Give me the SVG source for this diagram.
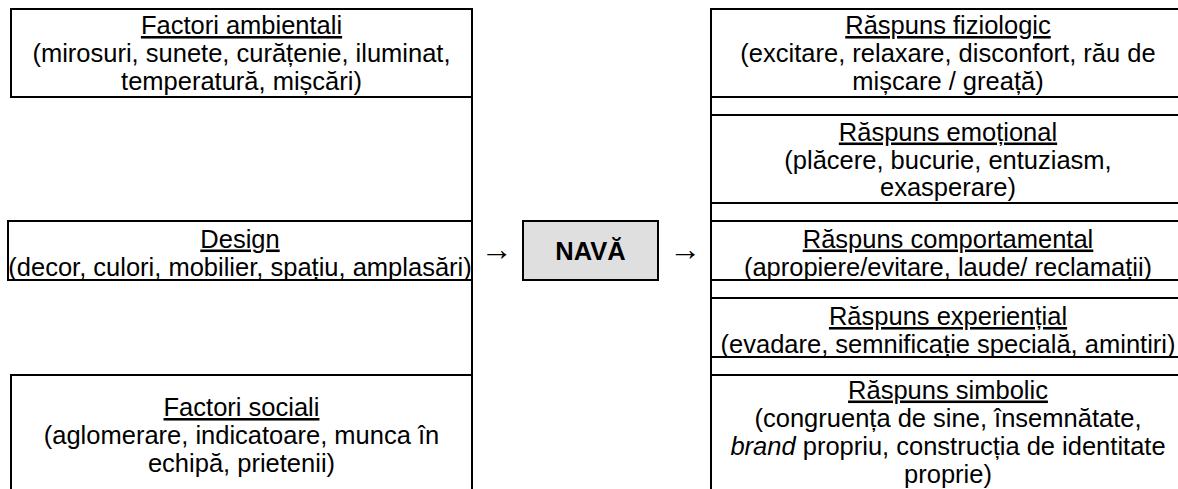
<svg xmlns="http://www.w3.org/2000/svg" width="1178" height="489" viewBox="0 0 1178 489">
<style>
  .cell { fill: #ffffff; stroke: #000000; stroke-width: 2; }
  .nava { fill: #dfdfdf; stroke: #000000; stroke-width: 2; }
  .rule { stroke: #000000; stroke-width: 2; fill: none; }
  text { font-family: "Liberation Sans", Arial, sans-serif; font-size: 25.5px; fill: #000000; text-anchor: middle; }
  .title { text-decoration: underline; }
  .bold { font-weight: bold; }
  .arrow { font-family: "Liberation Serif", "DejaVu Serif", serif; font-size: 32px; }
</style>
<rect x="0" y="0" width="1178" height="489" fill="#ffffff"/>

<g id="table-lines">
  <line class="rule" x1="472" y1="8" x2="472" y2="490"/>
  <line class="rule" x1="711" y1="8" x2="711" y2="490"/>
</g>

<g id="factori-ambientali">
  <rect class="cell" x="11" y="9" width="461" height="88"/>
  <text x="241.5" y="34" class="title">Factori ambientali</text>
  <text x="241.5" y="62">(mirosuri, sunete, curățenie, iluminat,</text>
  <text x="241.5" y="90">temperatură, mișcări)</text>
</g>

<g id="design">
  <rect class="cell" x="8" y="221" width="464" height="59"/>
  <text x="240" y="247.5" class="title">Design</text>
  <text x="240" y="275.5">(decor, culori, mobilier, spațiu, amplasări)</text>
</g>

<g id="factori-sociali">
  <rect class="cell" x="11" y="375" width="461" height="130"/>
  <text x="241.5" y="416" class="title">Factori sociali</text>
  <text x="241.5" y="444">(aglomerare, indicatoare, munca în</text>
  <text x="241.5" y="472">echipă, prietenii)</text>
</g>

<g id="nava">
  <rect class="nava" x="523" y="221" width="135" height="59"/>
  <text x="590.5" y="260" class="bold">NAVĂ</text>
</g>

<g id="raspuns-fiziologic">
  <rect class="cell" x="711" y="9" width="480" height="88"/>
  <text x="948" y="34" class="title">Răspuns fiziologic</text>
  <text x="948" y="62">(excitare, relaxare, disconfort, rău de</text>
  <text x="948" y="90">mișcare / greață)</text>
</g>

<g id="raspuns-emotional">
  <rect class="cell" x="711" y="115" width="480" height="88"/>
  <text x="948" y="140.5" class="title">Răspuns emoțional</text>
  <text x="948" y="168.5">(plăcere, bucurie, entuziasm,</text>
  <text x="948" y="196">exasperare)</text>
</g>

<g id="raspuns-comportamental">
  <rect class="cell" x="711" y="221" width="480" height="59"/>
  <text x="948" y="247.5" class="title">Răspuns comportamental</text>
  <text x="948" y="275.5">(apropiere/evitare, laude/ reclamații)</text>
</g>

<g id="raspuns-experiential">
  <rect class="cell" x="711" y="298" width="480" height="59"/>
  <text x="948" y="325" class="title">Răspuns experiențial</text>
  <text x="948" y="353">(evadare, semnificație specială, amintiri)</text>
</g>

<g id="raspuns-simbolic">
  <rect class="cell" x="711" y="375" width="480" height="130"/>
  <text x="948" y="398.5" class="title">Răspuns simbolic</text>
  <text x="948" y="426.5">(congruența de sine, însemnătate,</text>
  <text x="948" y="454.5"><tspan font-style="italic">brand</tspan> propriu, construcția de identitate</text>
  <text x="948" y="482.5">proprie)</text>
</g>

<g id="connectors">
  <text class="arrow" x="496.5" y="259.5">→</text>
  <text class="arrow" x="685" y="259.5">→</text>
</g>
</svg>
